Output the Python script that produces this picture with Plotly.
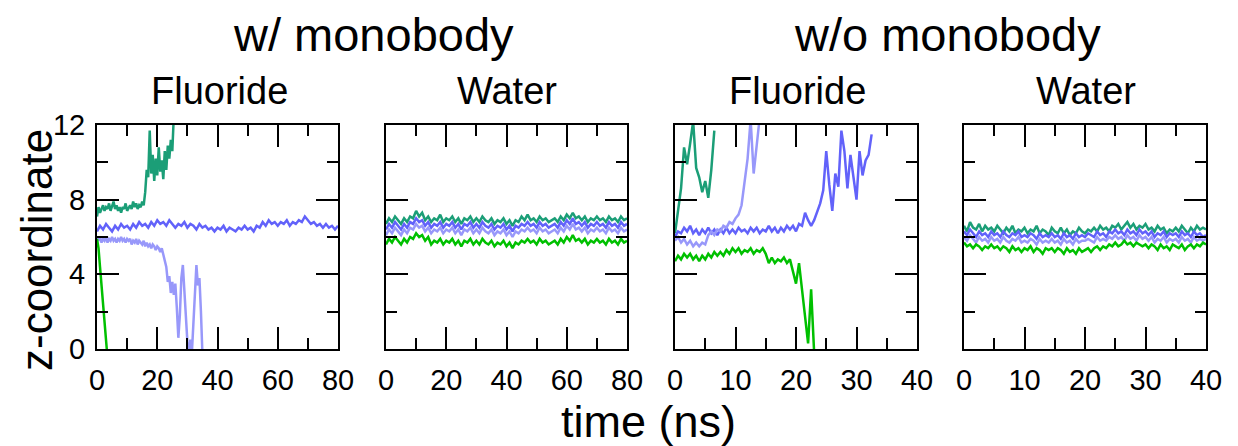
import numpy as np
import plotly.graph_objects as go

# ---------------- data (z-coordinate) ----------------
COL_TEAL = "#1b9e77"
COL_BLUE = "#6262fa"
COL_LIGHT = "#9898fa"
COL_GREEN = "#00c000"

# Panel 1: w/ monobody, Fluoride (0-80 ns)
p1_teal_step = 0.5
p1_teal = [7.1, 7.6, 7.3, 7.5, 7.7, 7.4, 7.6, 7.5, 7.8, 7.4,
           7.6, 7.9, 7.5, 7.7, 7.4, 7.6, 7.3, 7.6, 7.5, 7.8,
           7.4, 7.6, 7.7, 7.5, 7.9, 7.6, 7.8, 7.5, 7.7, 7.6,
           7.9, 7.7, 8.4, 9.6, 9.2, 11.7, 9.4, 10.4, 9.0, 10.2,
           9.3, 10.8, 9.5, 10.1, 9.1, 10.6, 9.6, 10.9, 10.2, 11.2,
           10.6, 12.5, 13.0]
p1_blue_step = 1.0
p1_blue = [6.3, 6.6, 6.4, 6.7, 6.5, 6.3, 6.6, 6.4, 6.7, 6.5,
           6.6, 6.4, 6.7, 6.5, 6.8, 6.6, 6.7, 6.5, 6.8, 6.6,
           6.9, 6.7, 6.8, 6.6, 6.9, 6.7, 6.5, 6.7, 6.6, 6.8,
           6.5, 6.7, 6.6, 6.4, 6.7, 6.5, 6.6, 6.4, 6.5, 6.3,
           6.5, 6.4, 6.6, 6.3, 6.5, 6.4, 6.3, 6.5, 6.4, 6.6,
           6.4, 6.5, 6.3, 6.6, 6.5, 6.8, 6.6, 6.9, 6.7, 6.8,
           6.6, 6.8, 6.7, 6.9, 6.6, 6.8, 6.7, 6.9, 6.8, 7.1,
           6.9, 6.7, 6.8, 6.6, 6.7, 6.5, 6.7, 6.5, 6.6, 6.4,
           6.6]
p1_light_step = 0.5
p1_light = [6.0, 5.8, 6.0, 5.7, 5.9, 5.8, 6.0, 5.7, 5.9, 5.8,
            6.0, 5.8, 5.9, 5.7, 5.9, 5.8, 6.0, 5.8, 5.9, 5.7,
            5.9, 5.8, 5.9, 5.6, 5.8, 5.7, 5.9, 5.6, 5.8, 5.7,
            5.6, 5.8, 5.5, 5.7, 5.5, 5.6, 5.4, 5.6, 5.5, 5.3,
            5.5, 5.4, 5.2, 5.4, 5.1, 4.8, 4.4, 3.6, 3.9, 3.0,
            3.6, 2.9, 3.5, 2.2, 0.6, 1.8, 3.8, 4.5, 3.0, 1.8,
            0.4, -0.3, 0.5, -0.2, 1.5, 3.2, 4.5, 3.4, 3.8, 2.0,
            -0.3]
p1_green_step = 0.5
p1_green = [5.9, 5.4, 4.4, 3.4, 2.5, 1.4, 0.5, -0.5]

# Panel 2: w/ monobody, Water (0-80 ns)
p2_step = 1.0
p2_teal = [6.7, 7.0, 6.8, 7.1, 6.9, 6.7, 7.0, 6.8, 7.1, 7.0,
           7.4, 7.1, 7.3, 6.9, 7.1, 6.8, 7.0, 6.9, 7.2, 6.8,
           7.0, 6.9, 7.1, 6.8, 7.0, 6.7, 7.0, 6.9, 7.1, 6.8,
           7.0, 6.8, 7.1, 6.9, 6.8, 7.0, 6.7, 6.9, 6.8, 7.0,
           6.7, 6.9, 6.6, 6.9, 6.8, 7.1, 6.9, 7.2, 6.9, 7.0,
           6.8, 7.1, 6.9, 7.0, 6.8, 6.9, 7.0, 6.8, 7.1, 6.9,
           7.2, 7.0, 7.3, 7.0, 7.1, 6.9, 7.1, 6.8, 7.0, 6.9,
           7.1, 6.9, 7.0, 6.8, 7.1, 6.9, 7.0, 6.8, 7.1, 6.9,
           7.0]
p2_blue = [6.4, 6.7, 6.5, 6.8, 6.6, 6.4, 6.7, 6.5, 6.8, 6.7,
           7.0, 6.8, 6.9, 6.6, 6.8, 6.5, 6.7, 6.6, 6.8, 6.5,
           6.7, 6.6, 6.8, 6.5, 6.7, 6.4, 6.7, 6.6, 6.8, 6.5,
           6.7, 6.5, 6.8, 6.6, 6.5, 6.7, 6.4, 6.6, 6.5, 6.7,
           6.4, 6.6, 6.3, 6.6, 6.5, 6.7, 6.6, 6.8, 6.6, 6.7,
           6.5, 6.8, 6.6, 6.7, 6.5, 6.6, 6.7, 6.5, 6.8, 6.6,
           6.9, 6.7, 7.0, 6.7, 6.8, 6.6, 6.8, 6.5, 6.7, 6.6,
           6.8, 6.6, 6.7, 6.5, 6.8, 6.6, 6.7, 6.5, 6.8, 6.6,
           6.7]
p2_light = [6.1, 6.4, 6.2, 6.5, 6.3, 6.1, 6.4, 6.2, 6.5, 6.4,
            6.7, 6.5, 6.6, 6.3, 6.5, 6.2, 6.4, 6.3, 6.5, 6.2,
            6.4, 6.3, 6.5, 6.2, 6.4, 6.1, 6.4, 6.3, 6.5, 6.2,
            6.4, 6.2, 6.5, 6.3, 6.2, 6.4, 6.1, 6.3, 6.2, 6.4,
            6.1, 6.3, 6.0, 6.3, 6.2, 6.4, 6.3, 6.5, 6.3, 6.4,
            6.2, 6.5, 6.3, 6.4, 6.2, 6.3, 6.4, 6.2, 6.5, 6.3,
            6.6, 6.4, 6.7, 6.4, 6.5, 6.3, 6.5, 6.2, 6.4, 6.3,
            6.5, 6.3, 6.4, 6.2, 6.5, 6.3, 6.4, 6.2, 6.5, 6.3,
            6.4]
p2_green = [5.6, 5.9, 5.7, 6.0, 5.8, 5.6, 5.9, 5.7, 6.0, 5.9,
            6.2, 6.0, 6.1, 5.8, 6.0, 5.6, 5.8, 5.7, 5.9, 5.6,
            5.8, 5.7, 5.9, 5.6, 5.8, 5.5, 5.8, 5.7, 5.9, 5.6,
            5.8, 5.6, 5.9, 5.7, 5.6, 5.8, 5.5, 5.7, 5.6, 5.8,
            5.5, 5.7, 5.4, 5.7, 5.6, 5.8, 5.7, 5.9, 5.7, 5.8,
            5.6, 5.9, 5.7, 5.8, 5.6, 5.7, 5.8, 5.6, 5.9, 5.7,
            6.0, 5.8, 6.1, 5.8, 5.9, 5.7, 5.9, 5.6, 5.8, 5.7,
            5.9, 5.7, 5.8, 5.6, 5.9, 5.7, 5.8, 5.6, 5.9, 5.7,
            5.8]

# Panel 3: w/o monobody, Fluoride (0-40 ns)
p3_step = 0.5
p3_teal = [6.2, 7.4, 8.6, 10.8, 9.9, 11.0, 12.2, 9.7, 9.2, 8.4,
           9.0, 8.1, 9.6, 11.7]
p3_light = [5.8, 6.0, 5.7, 5.9, 5.6, 5.8, 5.5, 5.7, 5.5, 5.7,
            5.6, 6.1, 6.3, 6.1, 6.4, 6.3, 6.6, 6.5, 6.8, 6.7,
            7.0, 7.2, 7.7, 8.9, 10.2, 12.3, 9.4, 10.9, 12.4]
p3_blue = [6.0, 6.3, 6.2, 6.5, 6.3, 6.6, 6.2, 6.4, 6.1, 6.4,
           6.2, 6.5, 6.2, 6.4, 6.1, 6.4, 6.2, 6.5, 6.2, 6.4,
           6.2, 6.5, 6.3, 6.4, 6.2, 6.5, 6.3, 6.5, 6.2, 6.4,
           6.3, 6.6, 6.3, 6.5, 6.2, 6.5, 6.3, 6.6, 6.4, 6.6,
           6.3, 6.7, 6.6, 7.3, 6.9, 6.6, 6.9, 7.3, 7.8, 8.5,
           10.6, 8.8, 7.4, 9.4, 8.7, 11.7, 10.6, 8.6, 10.4, 9.2,
           8.0, 10.6, 9.3, 10.1, 10.4, 11.5]
p3_green = [4.7, 5.0, 4.8, 5.1, 4.9, 5.1, 4.8, 5.0, 4.7, 5.0,
            4.8, 5.1, 4.9, 5.2, 5.0, 5.2, 5.0, 5.3, 5.1, 5.4,
            5.2, 5.4, 5.1, 5.3, 5.2, 5.4, 5.1, 5.3, 5.2, 5.4,
            5.1, 4.6, 4.9, 4.6, 4.8, 4.7, 4.9, 4.6, 4.8, 4.2,
            3.5, 4.6, 3.2, 1.5, 0.3, 3.2, -0.2]

# Panel 4: w/o monobody, Water (0-40 ns)
p4_step = 0.5
p4_teal = [6.6, 6.3, 6.8, 6.5, 6.4, 6.7, 6.3, 6.6, 6.4, 6.5,
           6.3, 6.6, 6.4, 6.2, 6.5, 6.3, 6.6, 6.2, 6.4, 6.3,
           6.5, 6.2, 6.4, 6.3, 6.6, 6.2, 6.4, 6.3, 6.1, 6.5,
           6.3, 6.2, 6.5, 6.2, 6.4, 6.1, 6.3, 6.2, 6.5, 6.3,
           6.2, 6.4, 6.3, 6.5, 6.3, 6.6, 6.4, 6.5, 6.3, 6.6,
           6.5, 6.7, 6.4, 6.6, 6.8, 6.5, 6.7, 6.4, 6.6, 6.5,
           6.7, 6.4, 6.5, 6.3, 6.6, 6.4, 6.5, 6.2, 6.4, 6.3,
           6.5, 6.3, 6.6, 6.4, 6.2, 6.5, 6.3, 6.6, 6.4, 6.5,
           6.4]
p4_blue = [6.3, 6.1, 6.4, 6.2, 6.0, 6.3, 6.1, 6.2, 6.0, 6.3,
           6.1, 6.2, 6.0, 6.3, 6.1, 6.0, 6.2, 6.1, 6.3, 6.0,
           6.1, 6.0, 6.2, 6.1, 5.9, 6.2, 6.0, 6.1, 6.0, 6.2,
           6.0, 6.1, 5.9, 6.2, 6.0, 6.1, 5.9, 6.2, 6.0, 6.1,
           6.0, 6.2, 6.1, 6.0, 6.3, 6.1, 6.2, 6.0, 6.3, 6.2,
           6.4, 6.2, 6.3, 6.1, 6.4, 6.2, 6.3, 6.1, 6.4, 6.2,
           6.3, 6.1, 6.3, 6.0, 6.2, 6.1, 6.3, 6.0, 6.2, 6.1,
           6.2, 6.0, 6.3, 6.1, 6.2, 6.0, 6.3, 6.1, 6.2, 6.0,
           6.1]
p4_light = [6.0, 5.8, 6.1, 5.9, 5.7, 6.0, 5.8, 5.9, 5.7, 6.0,
            5.8, 5.9, 5.7, 6.0, 5.8, 5.7, 5.9, 5.8, 6.0, 5.7,
            5.8, 5.7, 5.9, 5.8, 5.6, 5.9, 5.7, 5.8, 5.7, 5.9,
            5.7, 5.8, 5.6, 5.9, 5.7, 5.8, 5.6, 5.9, 5.7, 5.8,
            5.8, 5.9, 5.8, 5.7, 6.0, 5.8, 5.9, 5.8, 6.0, 5.9,
            6.1, 5.9, 6.0, 5.8, 6.1, 5.9, 6.0, 5.8, 6.1, 5.9,
            6.0, 5.8, 6.0, 5.7, 5.9, 5.8, 6.0, 5.7, 5.9, 5.8,
            5.9, 5.7, 6.0, 5.8, 5.9, 5.7, 6.0, 5.8, 5.9, 5.8,
            5.9]
p4_green = [5.7, 5.5, 5.6, 5.4, 5.6, 5.5, 5.3, 5.5, 5.4, 5.6,
            5.4, 5.5, 5.3, 5.5, 5.4, 5.2, 5.5, 5.3, 5.4, 5.2,
            5.4, 5.3, 5.5, 5.2, 5.4, 5.3, 5.1, 5.4, 5.3, 5.4,
            5.2, 5.4, 5.3, 5.1, 5.4, 5.2, 5.3, 5.1, 5.4, 5.2,
            5.3, 5.4, 5.2, 5.4, 5.5, 5.3, 5.5, 5.4, 5.6, 5.5,
            5.7, 5.5, 5.6, 5.8, 5.6, 5.7, 5.5, 5.7, 5.6, 5.5,
            5.6, 5.4, 5.6, 5.5, 5.3, 5.6, 5.4, 5.5, 5.3, 5.6,
            5.5, 5.4, 5.6, 5.3, 5.5, 5.6, 5.4, 5.6, 5.5, 5.7,
            5.6]

top_titles = ["w/ monobody", "w/o monobody"]
sub_titles = ["Fluoride", "Water", "Fluoride", "Water"]
x_ticks_long = [0, 20, 40, 60, 80]
x_ticks_short = [0, 10, 20, 30, 40]
y_ticks = [0, 4, 8, 12]
x_title = "time (ns)"
y_title = "z-coordinate"

# ---------------- figure ----------------
W, H = 1238, 446
OFF = 8  # page body margin offset
ML, MR, MT, MB = 97 - OFF, W - (1206 - OFF), 125 - OFF, H - (349 - OFF)
PW = W - ML - MR
PH = H - MT - MB
FONT = "Liberation Sans, Arial, Helvetica, sans-serif"
LW = 2.5

fig = go.Figure()

panels = [
    [(p1_teal, p1_teal_step, COL_TEAL), (p1_blue, p1_blue_step, COL_BLUE),
     (p1_light, p1_light_step, COL_LIGHT), (p1_green, p1_green_step, COL_GREEN)],
    [(p2_teal, p2_step, COL_TEAL), (p2_blue, p2_step, COL_BLUE),
     (p2_light, p2_step, COL_LIGHT), (p2_green, p2_step, COL_GREEN)],
    [(p3_teal, p3_step, COL_TEAL), (p3_blue, p3_step, COL_BLUE),
     (p3_light, p3_step, COL_LIGHT), (p3_green, p3_step, COL_GREEN)],
    [(p4_teal, p4_step, COL_TEAL), (p4_blue, p4_step, COL_BLUE),
     (p4_light, p4_step, COL_LIGHT), (p4_green, p4_step, COL_GREEN)],
]

for i, series in enumerate(panels):
    xa = "x" if i == 0 else f"x{i+1}"
    ya = "y" if i == 0 else f"y{i+1}"
    for vals, step, col in series:
        t = np.arange(len(vals)) * step
        fig.add_trace(go.Scatter(x=t, y=vals, mode="lines", xaxis=xa, yaxis=ya,
                                 line=dict(color=col, width=LW), hoverinfo="skip"))

px_domains = [(97, 338), (386, 627), (675, 917), (964, 1206)]
x_ranges = [[0, 80], [0, 80], [0, 40], [0, 40]]
x_tickvals = [x_ticks_long, x_ticks_long, x_ticks_short, x_ticks_short]
x_minor = [10, 10, 5, 5]

TICKFONT = dict(family=FONT, size=29, color="black")
layout = dict(width=W, height=H, margin=dict(l=ML, r=MR, t=MT, b=MB, autoexpand=False),
              paper_bgcolor="white", plot_bgcolor="white", showlegend=False,
              font=dict(family=FONT, color="black"))

for i in range(4):
    sx = "" if i == 0 else str(i + 1)
    d0 = (px_domains[i][0] - OFF - ML) / PW
    d1 = (px_domains[i][1] - OFF - ML) / PW
    layout[f"xaxis{sx}"] = dict(
        domain=[max(0, d0), min(1, d1)],
        range=x_ranges[i], automargin=False,
        anchor="y" + sx, tickmode="array", tickvals=x_tickvals[i],
        ticktext=[str(v) for v in x_tickvals[i]],
        showline=True, linecolor="black", linewidth=2, mirror="ticks",
        ticks="inside", ticklen=22, tickwidth=2, tickcolor="black",
        showgrid=False, zeroline=False, tickfont=TICKFONT, ticklabelstandoff=4,
        minor=dict(dtick=x_minor[i], tick0=0, ticks="inside", ticklen=11,
                   tickwidth=2, tickcolor="black", showgrid=False),
    )
    layout[f"yaxis{sx}"] = dict(
        domain=[0, 1], range=[0, 12], anchor="x" + sx, tickmode="array",
        automargin=False,
        tickvals=y_ticks, ticktext=[str(v) for v in y_ticks],
        showticklabels=(i == 0),
        showline=True, linecolor="black", linewidth=2, mirror="ticks",
        ticks="inside", ticklen=22, tickwidth=2, tickcolor="black",
        showgrid=False, zeroline=False, tickfont=TICKFONT, ticklabelstandoff=4,
        minor=dict(dtick=2, tick0=0, ticks="inside", ticklen=11,
                   tickwidth=2, tickcolor="black", showgrid=False),
    )

fig.update_layout(**layout)


def ann(text, xpx, ypx, size, angle=0):
    # xpx, ypx: target position in the screenshot (pixels)
    xp = (xpx - OFF - ML) / PW
    yp = (H - MB - (ypx - OFF)) / PH
    fig.add_annotation(text=text, x=xp, y=yp, xref="paper", yref="paper",
                       xanchor="center", yanchor="middle", showarrow=False,
                       textangle=angle, font=dict(family=FONT, size=size, color="black"))


ann(top_titles[0], 373, 34, 47)
ann(top_titles[1], 947, 34, 47)
for txt, xc in zip(sub_titles, [219, 507, 797, 1086]):
    ann(txt, xc, 91, 38)
ann(y_title, 36, 250, 44, angle=-90)
ann(x_title, 648, 421, 45)

fig.write_html("out.html")
